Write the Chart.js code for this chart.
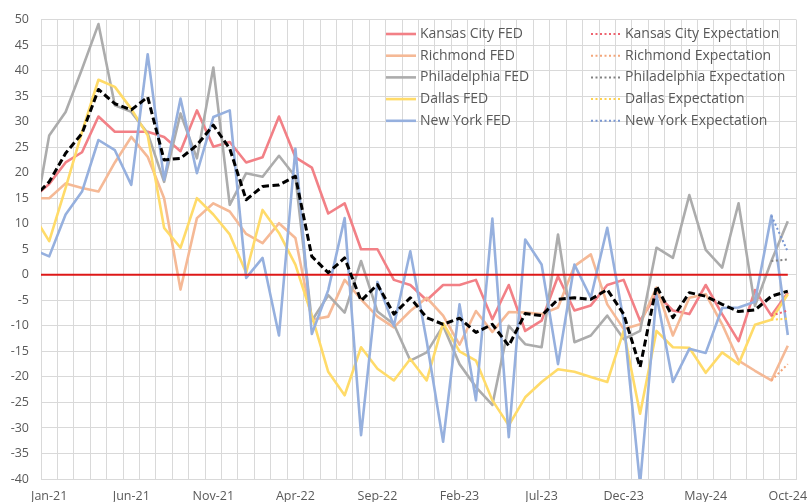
<!DOCTYPE html>
<html>
<head>
<meta charset="utf-8">
<script src="https://cdn.jsdelivr.net/npm/chart.js@4.4.1/dist/chart.umd.min.js"></script>
<style>
  html, body { margin: 0; padding: 0; background: #ffffff; }
  #wrap { width: 808px; height: 502px; }
</style>
</head>
<body>
<div id="wrap"><canvas id="c" width="808" height="502"></canvas></div>
<script>
// Months (first entry Dec-20 lies just outside the visible axis range, its segment is clipped)
const categories = ['Dec-20','Jan-21','Feb-21','Mar-21','Apr-21','May-21','Jun-21','Jul-21','Aug-21','Sep-21','Oct-21','Nov-21','Dec-21',
  'Jan-22','Feb-22','Mar-22','Apr-22','May-22','Jun-22','Jul-22','Aug-22','Sep-22','Oct-22','Nov-22','Dec-22',
  'Jan-23','Feb-23','Mar-23','Apr-23','May-23','Jun-23','Jul-23','Aug-23','Sep-23','Oct-23','Nov-23','Dec-23',
  'Jan-24','Feb-24','Mar-24','Apr-24','May-24','Jun-24','Jul-24','Aug-24','Sep-24','Oct-24'];
const xTickLabels = ['Jan-21','Jun-21','Nov-21','Apr-22','Sep-22','Feb-23','Jul-23','Dec-23','May-24','Oct-24'];

const kansasCity = [15, 17.8, 22, 24, 31, 28, 28, 28, 27, 24.2, 32.2, 25.1, 26, 22, 23, 31, 23, 21, 12, 14, 5, 5, -1, -2, -5, -2, -2, -1, -8.7, -2, -11, -9, -0.3, -7, -6, -2, -1, -9, -3.8, -7, -7.7, -2, -7.7, -13, -3, -8, -3.5];
const richmond = [15, 15, 17.9, 17, 16.3, 22, 27, 23.1, 15, -2.9, 11.1, 14, 12.4, 8, 6.2, 10.1, 7.2, -8.8, -8.2, -1, -4.8, -8.2, -10.3, -7.1, -4.5, -8, -13.7, -7.1, -11.2, -7.3, -7.4, -7.7, -6.4, 1.7, 4, -5.8, -10.6, -9.7, -2.5, -11.9, -4.5, -3.8, -9.7, -16.8, -18.8, -20.7, -13.9];
const philadelphia = [9, 27.3, 31.9, 40.3, 49.1, 33.2, 31.9, 27.7, 18.2, 31.6, 22.8, 40.6, 13.7, 19.9, 19.2, 23.3, 19.2, -9, -4, -7.4, 2.7, -7.2, -9.7, -16.8, -15.2, -10, -17.5, -22, -25.5, -10, -13.6, -14.2, 7.9, -13.2, -11.9, -8, -12.6, -11, 5.3, 3.3, 15.6, 4.9, 1.4, 14, -6.1, 2.7, 10.5];
const dallas = [11.8, 6.6, 17, 28, 38.2, 36.8, 32.5, 27.3, 9.2, 5.3, 15, 11.8, 7.9, 0.4, 12.7, 8.2, 2, -8, -19, -23.6, -14.2, -18.4, -20.7, -16.5, -20.7, -9.5, -15, -16.8, -24.6, -29.5, -24, -21, -18.5, -19, -20, -21, -11, -27.2, -11, -14.2, -14.3, -19.2, -15.2, -17.5, -9.8, -8.8, -3.8];
const newYork = [5, 3.6, 11.8, 16.3, 26.4, 24.4, 17.6, 43.2, 18.6, 34.5, 19.9, 30.9, 32.2, -0.6, 3.3, -11.9, 24.7, -11.6, -3, 11.1, -31.4, -1.4, -10, 4.6, -13, -32.7, -5.8, -24.6, 11, -31.8, 6.9, 2, -17.5, 2, -4.5, 9.2, -9, -41, -4, -21, -14.5, -15.3, -6.5, -6.4, -5.3, 11.6, -11.8];
const average = [15, 18.2, 23.8, 27.7, 36.3, 33.5, 32.3, 34.8, 22.5, 22.8, 25.4, 29.3, 24.7, 14.7, 17.3, 17.6, 19.3, 3.6, 0.4, 3.3, -5.1, -1.9, -7.7, -4.5, -8.4, -9.7, -8.5, -11.3, -9.7, -13.9, -7.6, -8, -4.8, -4.5, -4.8, -2.9, -7.7, -18.1, -2.2, -8.4, -3.5, -4.2, -5.8, -7.2, -6.9, -4.2, -3.2];
const zeroLine = [0, 0, 0, 0, 0, 0, 0, 0, 0, 0, 0, 0, 0, 0, 0, 0, 0, 0, 0, 0, 0, 0, 0, 0, 0, 0, 0, 0, 0, 0, 0, 0, 0, 0, 0, 0, 0, 0, 0, 0, 0, 0, 0, 0, 0, 0, 0];

// Expectations: Sep-24 actual -> Oct-24 expectation
const expMonths = ['Sep-24', 'Oct-24'];
const kansasCityExp = [-8, -7];
const richmondExp = [-20.7, -17.5];
const philadelphiaExp = [2.7, 3];
const dallasExp = [-8.8, -8.6];
const newYorkExp = [11.6, 4.5];

function pts(arr) { return arr.map((v, k) => ({ x: k - 1, y: v })); }
function expPts(arr) { return arr.map((v, k) => ({ x: categories.indexOf(expMonths[k]) - 1, y: v })); }

const C = {
  kc: 'rgba(242,128,134,1)',
  rich: 'rgba(245,185,150,1)',
  phil: 'rgba(172,172,172,1)',
  dal: 'rgba(255,219,105,1)',
  ny: 'rgba(150,176,222,1)',
  kcE: 'rgba(238,100,112,1)',
  richE: 'rgba(244,166,122,1)',
  philE: 'rgba(130,130,130,1)',
  dalE: 'rgba(255,210,80,1)',
  nyE: 'rgba(120,150,210,1)'
};

const LW = 2.6;
function solid(label, arr, color, order) {
  return { label, data: pts(arr), borderColor: color, borderWidth: LW, pointRadius: 0, tension: 0, order, legend: true, dotted: false };
}
function dotted(label, arr, color, order) {
  return { label, data: expPts(arr), borderColor: color, borderWidth: 2, borderDash: [2, 2.5], pointRadius: 0, tension: 0, order, legend: true, dotted: true };
}

const datasets = [
  { label: 'Average', data: pts(average), borderColor: '#000000', borderWidth: 3, borderDash: [7, 3.5], pointRadius: 0, tension: 0, order: 0, legend: false },
  { label: 'Zero', data: pts(zeroLine), borderColor: 'rgba(222,24,24,1)', borderWidth: 2, pointRadius: 0, order: 1, legend: false },
  solid('Kansas City FED', kansasCity, C.kc, 7),
  solid('Richmond FED', richmond, C.rich, 6),
  solid('Philadelphia FED', philadelphia, C.phil, 5),
  solid('Dallas FED', dallas, C.dal, 4),
  solid('New York FED', newYork, C.ny, 3),
  dotted('Kansas City Expectation', kansasCityExp, C.kcE, 2),
  dotted('Richmond Expectation', richmondExp, C.richE, 2),
  dotted('Philadelphia Expectation', philadelphiaExp, C.philE, 2),
  dotted('Dallas Expectation', dallasExp, C.dalE, 2),
  dotted('New York Expectation', newYorkExp, C.nyE, 2)
];

const FONT = "'Open Sans', 'DejaVu Sans', sans-serif";
const TEXT = '#595959';
const GRID = '#d9d9d9';

const legendPlugin = {
  id: 'insideLegend',
  afterDatasetsDraw(chart) {
    const ctx = chart.ctx;
    const items = chart.data.datasets.filter(d => d.legend);
    const solidItems = items.filter(d => !d.dotted);
    const dotItems = items.filter(d => d.dotted);
    const cols = [{ x: 386, list: solidItems }, { x: 591, list: dotItems }];
    const y0 = 34, dy = 21.7, sw = 30;
    ctx.save();
    ctx.font = '14px ' + FONT;
    ctx.textBaseline = 'middle';
    ctx.textAlign = 'left';
    cols.forEach(col => {
      col.list.forEach((d, r) => {
        const y = y0 + r * dy;
        ctx.beginPath();
        ctx.strokeStyle = d.borderColor;
        ctx.lineWidth = d.dotted ? 2 : LW;
        ctx.setLineDash(d.dotted ? [2, 2.5] : []);
        ctx.moveTo(col.x, y);
        ctx.lineTo(col.x + sw, y);
        ctx.stroke();
        ctx.setLineDash([]);
        ctx.fillStyle = TEXT;
        ctx.fillText(d.label, col.x + sw + 4, y);
      });
    });
    ctx.restore();
  }
};

new Chart(document.getElementById('c'), {
  type: 'line',
  data: { datasets },
  options: {
    responsive: false,
    devicePixelRatio: 1,
    animation: false,
    layout: { padding: { top: 17, right: 12, left: 0, bottom: 0 } },
    plugins: { legend: { display: false }, tooltip: { enabled: false } },
    elements: { line: { borderCapStyle: 'butt', borderJoinStyle: 'round' } },
    scales: {
      x: {
        type: 'linear',
        min: -0.5,
        max: 45.5,
        afterBuildTicks(scale) {
          const t = [];
          for (let k = 0; k <= 92; k++) t.push({ value: -0.5 + k * 0.5 });
          scale.ticks = t;
        },
        afterFit(scale) { scale.height = 23; },
        grid: {
          drawTicks: false,
          color(ctx) {
            return (ctx.tick && Number.isInteger(ctx.tick.value)) ? 'rgba(0,0,0,0)' : GRID;
          },
          lineWidth: 1
        },
        border: { display: true, color: GRID },
        ticks: {
          autoSkip: false,
          maxRotation: 0,
          minRotation: 0,
          padding: 10,
          color: TEXT,
          font: { family: FONT, size: 12.5 },
          callback(value) {
            if (Number.isInteger(value) && value % 5 === 0) return xTickLabels[value / 5] || '';
            return '';
          }
        }
      },
      y: {
        min: -40,
        max: 50,
        afterFit(scale) { scale.width = 41; },
        grid: { drawTicks: false, color: GRID, lineWidth: 1 },
        border: { display: true, color: GRID },
        ticks: {
          stepSize: 5,
          padding: 12,
          color: TEXT,
          font: { family: FONT, size: 12.5 }
        }
      }
    }
  },
  plugins: [legendPlugin]
});
</script>
</body>
</html>
